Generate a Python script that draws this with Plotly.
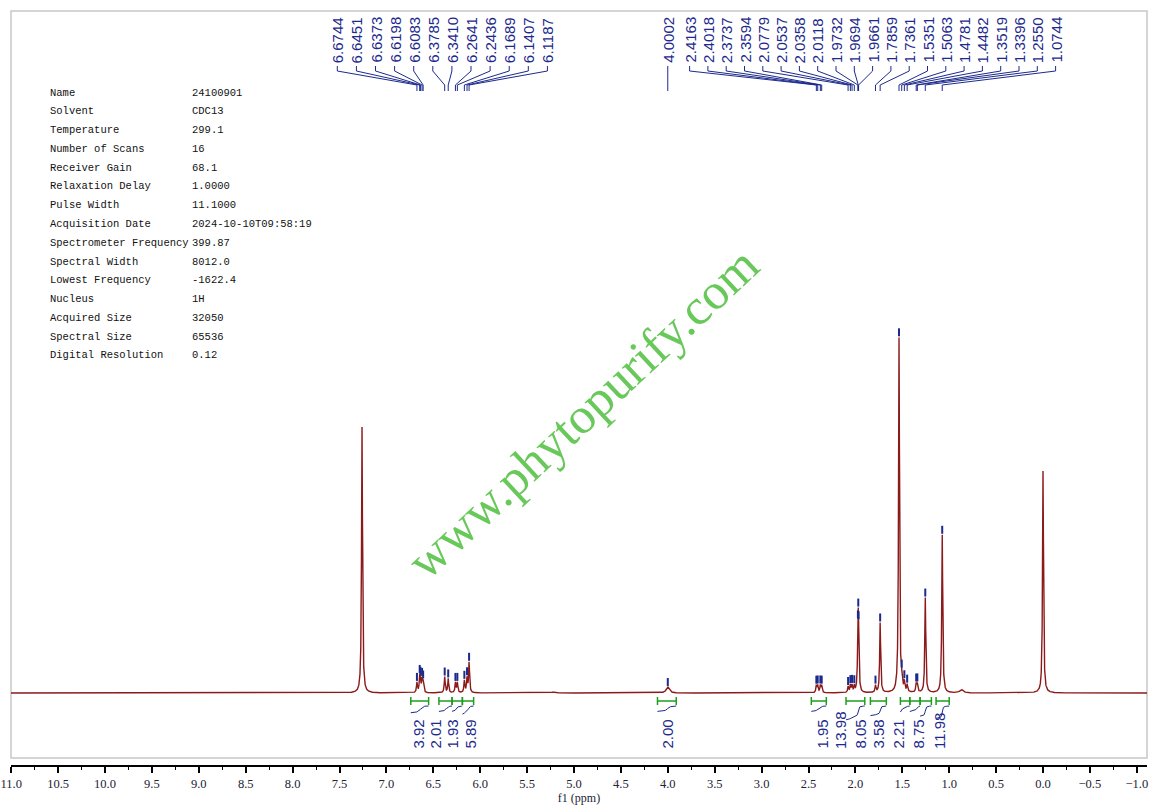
import numpy as np
import plotly.graph_objects as go

# ---- data ----
# labelled peaks: shift (ppm), height above baseline, half width (ppm)
peak_ppm = [6.6744, 6.6451, 6.6373, 6.6198, 6.6083, 6.3785, 6.3410, 6.2641, 6.2436,
            6.1689, 6.1407, 6.1187, 4.0002, 2.4163, 2.4018, 2.3737, 2.3594, 2.0779,
            2.0537, 2.0358, 2.0118, 1.9732, 1.9694, 1.9661, 1.7859, 1.7361, 1.5351,
            1.5063, 1.4781, 1.4482, 1.3519, 1.3396, 1.2550, 1.0744]
peak_height = [10, 14, 10, 12, 10, 16, 14, 10, 10,
               12, 14, 30, 6, 7, 7, 7, 7, 6,
               7, 7, 6, 33, 40, 28, 7, 70, 355,
               9, 9, 7, 8, 8, 95, 158]
peak_hw = [0.006] * 12 + [0.02] + [0.006] * 21

# unlabelled signals (CHCl3, TMS, small bumps)
extra_ppm = [7.26, 0.00, 0.87, 5.22]
extra_height = [266, 222, 3.5, 1.0]
extra_hw = [0.006, 0.006, 0.02, 0.02]

# peak label groups (top)
label_group_a = [6.6744, 6.6451, 6.6373, 6.6198, 6.6083, 6.3785, 6.3410, 6.2641,
                 6.2436, 6.1689, 6.1407, 6.1187]
label_group_b = [4.0002]
label_group_c = [2.4163, 2.4018, 2.3737, 2.3594, 2.0779, 2.0537, 2.0358, 2.0118,
                 1.9732, 1.9694, 1.9661, 1.7859, 1.7361, 1.5351, 1.5063, 1.4781,
                 1.4482, 1.3519, 1.3396, 1.2550, 1.0744]

# integrals
int_start = [6.74, 6.44, 6.30, 6.19, 4.11, 2.47, 2.10, 1.84, 1.52, 1.42, 1.31, 1.14]
int_end = [6.55, 6.30, 6.19, 6.07, 3.91, 2.31, 1.90, 1.67, 1.42, 1.31, 1.19, 1.00]
int_value = ["3.92", "2.01", "1.93", "5.89", "2.00", "1.95", "13.98", "8.05",
             "3.58", "2.21", "8.75", "11.98"]

param_names = ["Name", "Solvent", "Temperature", "Number of Scans", "Receiver Gain",
               "Relaxation Delay", "Pulse Width", "Acquisition Date",
               "Spectrometer Frequency", "Spectral Width", "Lowest Frequency",
               "Nucleus", "Acquired Size", "Spectral Size", "Digital Resolution"]
param_values = ["24100901", "CDC13", "299.1", "16", "68.1", "1.0000", "11.1000",
                "2024-10-10T09:58:19", "399.87", "8012.0", "-1622.4", "1H",
                "32050", "65536", "0.12"]

# ---- layout helpers (pixels) ----
W, H = 1160, 812
L, R, T, B = 11, 1147, 11, 765
X0_PX = 1043          # pixel of 0 ppm
PX_PER_PPM = 93.8
BASE_PX = 693         # baseline pixel row

NAVY = "#1c2a8c"
RED = "#8b1a1a"
GREEN = "#1e9e1e"


def ppm_at(px):
    return (X0_PX - px) / PX_PER_PPM


def yv(py):
    # y axis units are pixels above the baseline
    return BASE_PX - py


def px_x(px):
    return (px - L) / (R - L)


def px_y(py):
    return (B - py) / (B - T)


all_ppm = np.array(peak_ppm + extra_ppm)
all_h = np.array(peak_height + extra_height, dtype=float)
all_w = np.array(peak_hw + extra_hw)


def spectrum(x):
    x = np.atleast_1d(x)[:, None]
    return (all_h / (1 + ((x - all_ppm) / all_w) ** 2)).sum(axis=1)


ppm = np.linspace(ppm_at(L), ppm_at(R), 24001)
spec = spectrum(ppm)

fig = go.Figure()

fig.add_trace(go.Scatter(x=ppm, y=spec, mode="lines",
                         line=dict(color=RED, width=1.4), hoverinfo="skip"))

# blue ticks on top of each labelled peak
tops = spectrum(np.array(peak_ppm))
mx, my = [], []
for p, t in zip(peak_ppm, tops):
    mx += [p, p, None]
    my += [t + 1, t + 9, None]
fig.add_trace(go.Scatter(x=mx, y=my, mode="lines",
                         line=dict(color=NAVY, width=2), hoverinfo="skip"))

# peak labels with connectors
annotations = []
cx, cy = [], []
for group, gap_px in [(label_group_a, 19.1), (label_group_b, 18.3), (label_group_c, 18.3)]:
    n = len(group)
    c = np.mean(group)
    gap = gap_px / PX_PER_PPM
    for i, p in enumerate(group):
        xl = c + gap * ((n - 1) / 2 - i)
        cx += [xl, xl, p, p, None]
        cy += [yv(66), yv(71), yv(85), yv(91), None]
        annotations.append(dict(x=xl, y=yv(65), xref="x", yref="y", text=f"{p:.4f}",
                                textangle=-90, showarrow=False, xanchor="center",
                                yanchor="bottom", font=dict(family="Liberation Sans", size=15, color=NAVY)))
fig.add_trace(go.Scatter(x=cx, y=cy, mode="lines",
                         line=dict(color=NAVY, width=1), hoverinfo="skip"))

# integral bars, curves and values
gx, gy = [], []
ix, iy = [], []
int_label_px = [418, 435, 452, 470, 667, 822, 840, 860, 878, 898, 918, 939]
for s, e, v, lp in zip(int_start, int_end, int_value, int_label_px):
    gx += [s, e, None, s, s, None, e, e, None]
    gy += [yv(701), yv(701), None, yv(697), yv(705), None, yv(697), yv(705), None]
    seg = np.linspace(s, e, 60)
    cum = np.cumsum(spectrum(seg))
    cum = cum / cum[-1]
    hgt = min(4 + 0.7 * float(v), 14)
    ix += list(seg) + [None]
    iy += list(yv(706 + hgt) + hgt * cum) + [None]
    annotations.append(dict(x=ppm_at(lp), y=yv(751), xref="x", yref="y", text=v,
                            textangle=-90, showarrow=False, xanchor="center",
                            yanchor="bottom", font=dict(family="Liberation Sans", size=15, color=NAVY)))
fig.add_trace(go.Scatter(x=ix, y=iy, mode="lines",
                         line=dict(color=NAVY, width=1), hoverinfo="skip"))
fig.add_trace(go.Scatter(x=gx, y=gy, mode="lines",
                         line=dict(color=GREEN, width=1.5), hoverinfo="skip"))

# acquisition parameters
for i, (k, v) in enumerate(zip(param_names, param_values)):
    ry = 92.7 + i * 18.76
    annotations.append(dict(x=px_x(48), y=px_y(ry), xref="paper", yref="paper", text=k,
                            showarrow=False, xanchor="left", yanchor="middle",
                            font=dict(family="Liberation Mono", size=10.5, color="#111")))
    annotations.append(dict(x=px_x(190), y=px_y(ry), xref="paper", yref="paper", text=v,
                            showarrow=False, xanchor="left", yanchor="middle",
                            font=dict(family="Liberation Mono", size=10.5, color="#111")))

# watermark
annotations.append(dict(x=px_x(583), y=px_y(413), xref="paper", yref="paper",
                        text="www.phytopurify.com", textangle=-43, showarrow=False,
                        font=dict(family="Liberation Serif", size=51, color="rgb(105,200,90)")))

fig.update_layout(
    width=W, height=H,
    margin=dict(l=L, r=W - R, t=T, b=H - B, autoexpand=False),
    paper_bgcolor="white", plot_bgcolor="white",
    showlegend=False,
    annotations=annotations,
    shapes=[dict(type="rect", xref="paper", yref="paper", x0=0, x1=1,
                 y0=px_y(758), y1=1, line=dict(color="#c8c8c8", width=1.5), layer="below")],
    xaxis=dict(range=[ppm_at(L), ppm_at(R)], autorange=False, automargin=False,
               tickmode="linear", tick0=0, dtick=0.5, tickformat=".1f",
               showgrid=False, zeroline=False,
               showline=True, linecolor="black", linewidth=1.5,
               ticks="outside", ticklen=6, tickwidth=1.5, tickcolor="black",
               minor=dict(dtick=0.25, ticks="outside", ticklen=3, tickwidth=1.2, tickcolor="black"),
               tickfont=dict(family="Liberation Serif", size=12.5, color="#222233"),
               title=dict(text="f1 (ppm)", standoff=2,
                          font=dict(family="Liberation Serif", size=12, color="#222233"))),
    yaxis=dict(range=[yv(B), yv(T)], autorange=False, visible=False, automargin=False),
)

# drop the default page margin so the figure sits at the window origin
fig.write_html("out.html", config={"displayModeBar": False},
               post_script="document.body.style.margin='0';")
